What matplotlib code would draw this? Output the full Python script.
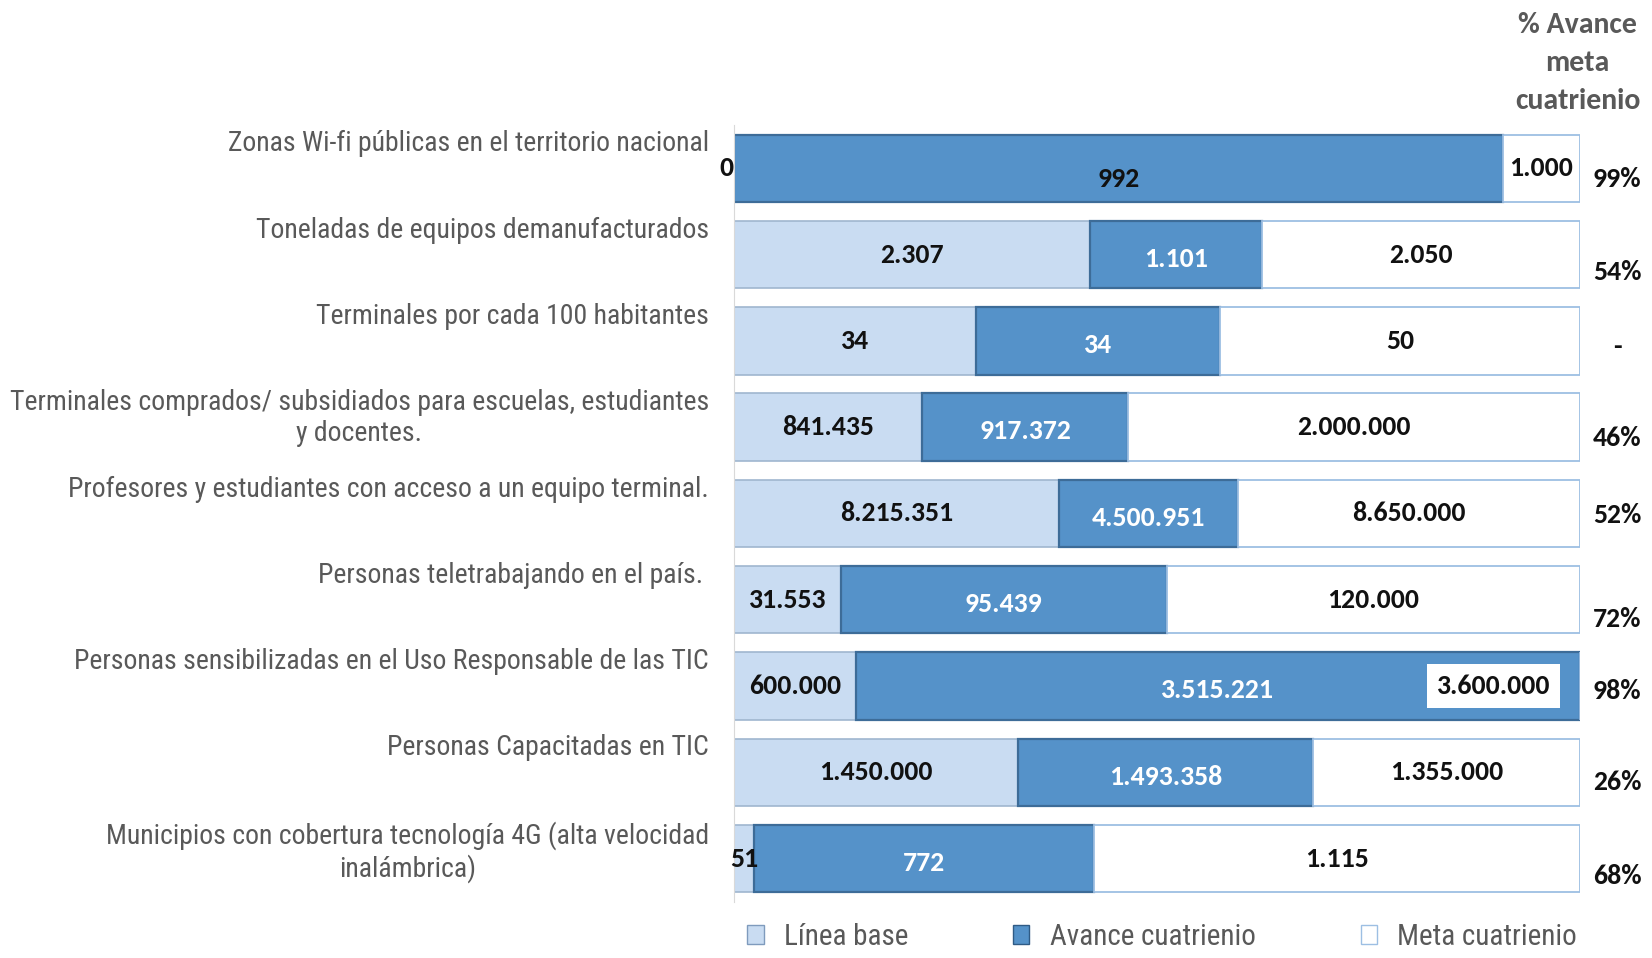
import matplotlib
matplotlib.use("Agg")
import matplotlib.pyplot as plt
from matplotlib.patches import Patch
import numpy as np

# indicadores (de arriba hacia abajo)
categories = [
    "Zonas Wi-fi públicas en el territorio nacional",
    "Toneladas de equipos demanufacturados",
    "Terminales por cada 100 habitantes",
    "Terminales comprados/ subsidiados para escuelas, estudiantes\ny docentes.",
    "Profesores y estudiantes con acceso a un equipo terminal.",
    "Personas teletrabajando en el país. ",
    "Personas sensibilizadas en el Uso Responsable de las TIC",
    "Personas Capacitadas en TIC",
    "Municipios con cobertura tecnología 4G (alta velocidad\ninalámbrica)",
]
base_vals = [0, 2307, 34, 841435, 8215351, 31553, 600000, 1450000, 51]
avance_vals = [992, 1101, 34, 917372, 4500951, 95439, 3515221, 1493358, 772]
meta_vals = [1000, 2050, 50, 2000000, 8650000, 120000, 3600000, 1355000, 1115]
pct_labels = ["99%", "54%", "-", "46%", "52%", "72%", "98%", "26%", "68%"]

# ancho de cada tramo (% de la barra)
base_share = [0, 42.1, 28.6, 22.2, 38.4, 12.6, 14.4, 33.6, 2.4]
avance_share = [90.9, 20.3, 28.9, 24.4, 21.2, 38.6, 85.6, 34.9, 40.1]
meta_share = [9.1, 37.6, 42.5, 53.4, 40.4, 48.8, 0, 31.5, 57.5]

# layout only
pct_dy = [0.13, 0.2, 0.07, 0.12, 0.02, 0.22, 0.06, 0.11, 0.2]

c_base = "#C9DCF2"
c_avance = "#5592C9"
c_meta = "#FFFFFF"
grey = "#595959"
narrow = ["Roboto Condensed", "Liberation Sans", "DejaVu Sans"]
numfont = ["Carlito", "Lato", "DejaVu Sans"]
fs = 20


def fmt(v):
    return f"{v:,}".replace(",", ".")


fig = plt.figure(figsize=(16.52, 9.58), dpi=100)
ax = fig.add_axes([0.4443, 0.0585, 0.5121, 0.811])

y = np.arange(len(categories))
b = np.array(base_share, dtype=float)
a = np.array(avance_share, dtype=float)
m = np.array(meta_share, dtype=float)
h = 0.78

ax.barh(y, b, height=h, color=c_base, edgecolor="#9fb6cf", linewidth=1.2)
ax.barh(y, a, left=b, height=h, color=c_avance, edgecolor="#3d6c98", linewidth=1.6)
ax.barh(y, m, left=b + a, height=h, color=c_meta, edgecolor="#9dbfe3", linewidth=1.3)

ax.set_xlim(0, 100)
ax.set_ylim(len(categories) - 0.5, -0.5)
ax.set_xticks([])
ax.set_yticks([])
for s in ["top", "right", "bottom"]:
    ax.spines[s].set_visible(False)
ax.spines["left"].set_color("#d9d9d9")

for i in range(len(categories)):
    ax.text(-2.95, i - 0.44, categories[i], ha="right", va="top", fontsize=fs,
            color=grey, family=narrow, linespacing=1.2, multialignment="center",
            clip_on=False)

    # linea base
    if b[i] == 0:
        ax.text(-0.1, i, fmt(base_vals[i]), ha="right", va="center", fontsize=fs,
                fontweight="bold", color="#111111", family=numfont, clip_on=False)
    else:
        ax.text(b[i] / 2, i, fmt(base_vals[i]), ha="center", va="center", fontsize=fs,
                fontweight="bold", color="#111111", family=numfont)

    # avance
    if b[i] == 0:
        ax.text(b[i] + a[i] / 2, i + 0.12, fmt(avance_vals[i]), ha="center", va="center",
                fontsize=fs, fontweight="bold", color="#111111", family=numfont)
    else:
        ax.text(b[i] + a[i] / 2, i + 0.05, fmt(avance_vals[i]), ha="center", va="center",
                fontsize=fs, fontweight="bold", color="white", family=numfont)

    # meta
    if m[i] == 0:
        ax.text(89.8, i, fmt(meta_vals[i]), ha="center", va="center", fontsize=fs,
                fontweight="bold", color="#111111", family=numfont,
                bbox=dict(boxstyle="square,pad=0.35", fc="white", ec="none"))
    else:
        ax.text(b[i] + a[i] + m[i] / 2, i, fmt(meta_vals[i]), ha="center", va="center",
                fontsize=fs, fontweight="bold", color="#111111", family=numfont)

    ax.text(104.4, i + pct_dy[i], pct_labels[i], ha="center", va="center", fontsize=fs,
            fontweight="bold", color="#111111", family=numfont, clip_on=False)

fig.text(0.955, 0.987, "% Avance\nmeta\ncuatrienio", ha="center", va="top", fontsize=21.5,
         fontweight="bold", color=grey, family=numfont, linespacing=1.55)

handles = [
    Patch(facecolor=c_base, edgecolor="#7f9bbd", label="Línea base"),
    Patch(facecolor=c_avance, edgecolor="#2f5b85", label="Avance cuatrienio"),
    Patch(facecolor=c_meta, edgecolor="#9dbfe3", label="Meta cuatrienio"),
]
leg = fig.legend(handles=handles, loc="center", bbox_to_anchor=(0.7035, 0.022), ncol=3,
                 frameon=False, handlelength=0.55, handleheight=0.6, handletextpad=0.7,
                 columnspacing=3.6, prop={"family": narrow, "size": 21})
for t in leg.get_texts():
    t.set_color(grey)

fig.savefig("out.png", dpi=100, facecolor="white")
